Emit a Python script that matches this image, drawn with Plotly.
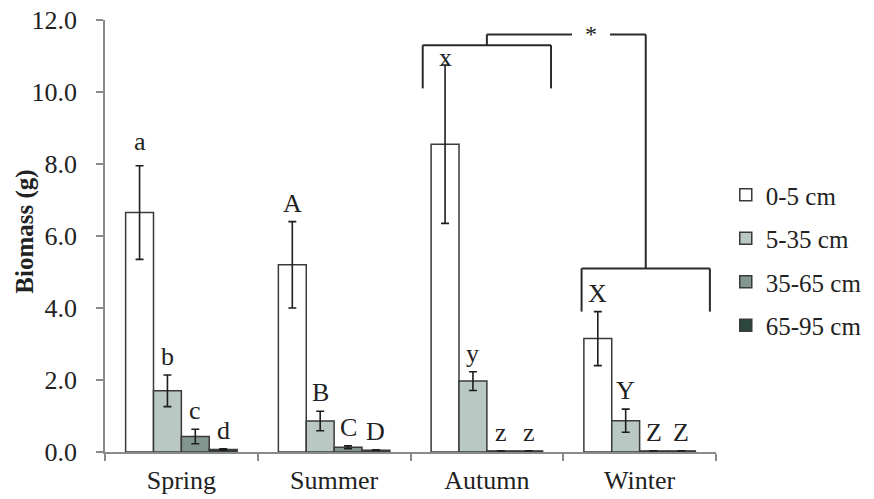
import plotly.graph_objects as go

seasons = ["Spring", "Summer", "Autumn", "Winter"]
depths = ["0-5 cm", "5-35 cm", "35-65 cm", "65-95 cm"]

# mean biomass (g) per depth, per season
biomass_0_5 = [6.65, 5.2, 8.55, 3.15]
biomass_5_35 = [1.7, 0.86, 1.97, 0.87]
biomass_35_65 = [0.43, 0.13, 0.03, 0.03]
biomass_65_95 = [0.07, 0.05, 0.03, 0.03]

err_0_5 = [1.3, 1.2, 2.2, 0.75]
err_5_35 = [0.44, 0.27, 0.26, 0.32]
err_35_65 = [0.2, 0.04, 0.0, 0.0]
err_65_95 = [0.02, 0.01, 0.0, 0.0]

letters_0_5 = ["a", "A", "x", "X"]
letters_5_35 = ["b", "B", "y", "Y"]
letters_35_65 = ["c", "C", "z", "Z"]
letters_65_95 = ["d", "D", "z", "Z"]

y_ticks = [0, 2, 4, 6, 8, 10, 12]

means = [biomass_0_5, biomass_5_35, biomass_35_65, biomass_65_95]
errs = [err_0_5, err_5_35, err_35_65, err_65_95]
letters = [letters_0_5, letters_5_35, letters_35_65, letters_65_95]
colors = ["#ffffff", "#b9c8c3", "#83968f", "#2e4640"]

FONT = "Liberation Serif, Times New Roman, serif"
BARGAP = 0.27

fig = go.Figure()
for k, d in enumerate(depths):
    fig.add_trace(go.Bar(
        name=d, x=seasons, y=means[k], legendgroup=d,
        marker=dict(color=colors[k], line=dict(color="#3a3a3a", width=1.5)),
        error_y=dict(type="data", array=errs[k], visible=True,
                     color="#1e1e1e", thickness=1.6, width=4),
    ))

# significance letters above the error bars
w = (1 - BARGAP) / len(depths)
annotations = []
for k in range(len(depths)):
    for i in range(len(seasons)):
        top = means[k][i] + errs[k][i]
        shift = 2
        if k == 0 and i == 2:
            shift = -9
        elif k == 0 and i == 0:
            shift = 8
        annotations.append(dict(
            x=i + (k - 1.5) * w, y=top, xref="x", yref="y",
            text=letters[k][i], showarrow=False, yanchor="bottom",
            yshift=shift, font=dict(family=FONT, size=26, color="#222")))

# significance star
annotations.append(dict(x=2.68, y=11.6, xref="x", yref="y", text="*",
                        showarrow=False, font=dict(family=FONT, size=24, color="#222")))
# y-axis title
annotations.append(dict(x=-0.131, y=0.51, xref="paper", yref="paper",
                        xanchor="center", yanchor="middle",
                        text="<b>Biomass (g)</b>", textangle=-90, showarrow=False,
                        font=dict(family=FONT, size=25, color="#222")))

line = dict(color="#2a2a2a", width=2)
shapes = []
# Autumn bracket
au_c, half = 2.0, 0.42
shapes += [
    dict(type="line", xref="x", yref="y", x0=au_c - half, x1=au_c - half, y0=10.1, y1=11.3, line=line),
    dict(type="line", xref="x", yref="y", x0=au_c - half, x1=au_c + half, y0=11.3, y1=11.3, line=line),
    dict(type="line", xref="x", yref="y", x0=au_c + half, x1=au_c + half, y0=10.1, y1=11.3, line=line),
    dict(type="line", xref="x", yref="y", x0=au_c, x1=au_c, y0=11.3, y1=11.6, line=line),
]
# Winter bracket
wi_c = 3.04
shapes += [
    dict(type="line", xref="x", yref="y", x0=wi_c - half, x1=wi_c - half, y0=3.9, y1=5.1, line=line),
    dict(type="line", xref="x", yref="y", x0=wi_c - half, x1=wi_c + half, y0=5.1, y1=5.1, line=line),
    dict(type="line", xref="x", yref="y", x0=wi_c + half, x1=wi_c + half, y0=3.9, y1=5.1, line=line),
    dict(type="line", xref="x", yref="y", x0=wi_c, x1=wi_c, y0=5.1, y1=11.6, line=line),
]
# connecting bar with a gap for the star
shapes += [
    dict(type="line", xref="x", yref="y", x0=au_c, x1=2.557, y0=11.6, y1=11.6, line=line),
    dict(type="line", xref="x", yref="y", x0=2.806, x1=wi_c, y0=11.6, y1=11.6, line=line),
]

fig.update_layout(
    width=874, height=499,
    margin=dict(l=105, r=158, t=20, b=47, autoexpand=False),
    paper_bgcolor="white", plot_bgcolor="white",
    barmode="group", bargap=BARGAP, bargroupgap=0,
    font=dict(family=FONT, size=25, color="#222"),
    showlegend=True,
    legend=dict(x=1.016, xanchor="left", y=0.648, yanchor="top",
                font=dict(family=FONT, size=25, color="#222"),
                tracegroupgap=8, bgcolor="rgba(0,0,0,0)"),
    annotations=annotations, shapes=shapes,
    xaxis=dict(showline=True, linecolor="#8a8a8a", linewidth=1.5, automargin=False,
               ticks="outside", tickson="boundaries", ticklen=7, tickcolor="#8a8a8a",
               tickwidth=1.5, tickfont=dict(family=FONT, size=26, color="#222"),
               ticklabelstandoff=4, showgrid=False, zeroline=False),
    yaxis=dict(range=[0, 12], tickvals=y_ticks, tickformat=".1f", automargin=False,
               showline=True, linecolor="#8a8a8a", linewidth=1.5,
               ticks="outside", ticklen=7, tickcolor="#8a8a8a", tickwidth=1.5,
               tickfont=dict(family=FONT, size=26, color="#222"),
               ticklabelstandoff=14, showgrid=False, zeroline=False),
)

fig.write_html("out.html", config={"displayModeBar": False},
               post_script="document.body.style.margin='0';document.body.style.overflow='hidden';")
